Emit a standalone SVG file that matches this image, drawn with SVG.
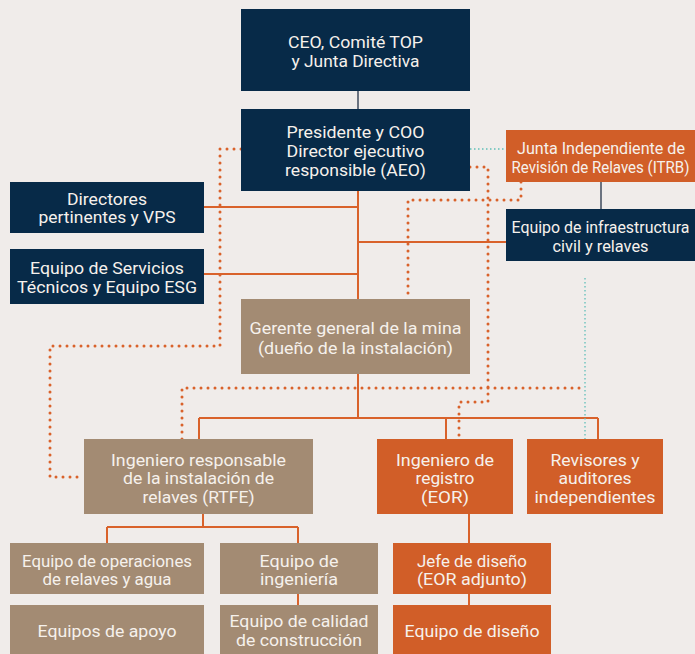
<svg xmlns="http://www.w3.org/2000/svg" width="695" height="654" viewBox="0 0 695 654">
<style>
.navy{fill:#072a48}
.tan{fill:#a38b73}
.org{fill:#d15e28}
text{font-family:Roboto,"Liberation Sans",sans-serif;font-size:17px;fill:#f6f1ec;text-anchor:middle}
.solid{fill:none;stroke:#d9622b;stroke-width:2}
.gray{fill:none;stroke:#6b7380;stroke-width:2}
.dot{fill:none;stroke:#d9622b;stroke-width:3;stroke-linecap:round;stroke-dasharray:0 7}
.teal{fill:none;stroke:#5fbfb8;stroke-width:1.3;stroke-dasharray:1.5 2.5}
</style>
<rect width="695" height="654" fill="#f0ecea"/>
<g id="connectors">
<path class="gray" d="M358,91V109M601,182V209"/>
<path class="solid" d="M358,191V299M204,207H358M204,274H358M358,242H506M358,374V418M199,418H598M199,418V439M446,418V439M598,418V439M203,513V527M107,527H298M107,527V543M298,527V543M298,594V605M469,513V543M469,594V605"/>
<path class="dot" d="M241,149H220V346H50V477H84"/>
<path class="dot" d="M470,167H488V402H459V439"/>
<path class="dot" d="M521,182V200H408V299"/>
<path class="dot" d="M182,439V388H585"/>
<path class="teal" d="M470,149H506M585,278V439"/>
</g>
<g id="ceo"><rect class="navy" x="241" y="9" width="229" height="82"/>
<text x="355.5" y="48" textLength="135" lengthAdjust="spacingAndGlyphs">CEO, Comité TOP</text>
<text x="355.5" y="67" textLength="128" lengthAdjust="spacingAndGlyphs">y Junta Directiva</text></g>
<g id="presidente"><rect class="navy" x="241" y="109" width="229" height="82"/>
<text x="355.5" y="138" textLength="138" lengthAdjust="spacingAndGlyphs">Presidente y COO</text>
<text x="355.5" y="157" textLength="138" lengthAdjust="spacingAndGlyphs">Director ejecutivo</text>
<text x="355.5" y="176" textLength="141" lengthAdjust="spacingAndGlyphs">responsible (AEO)</text></g>
<g id="itrb"><rect class="org" x="506" y="130" width="189" height="52"/>
<text x="601" y="154" textLength="168" lengthAdjust="spacingAndGlyphs">Junta Independiente de</text>
<text x="600.5" y="173" textLength="178" lengthAdjust="spacingAndGlyphs">Revisión de Relaves (ITRB)</text></g>
<g id="infra"><rect class="navy" x="506" y="209" width="189" height="52"/>
<text x="600.5" y="233" textLength="178" lengthAdjust="spacingAndGlyphs">Equipo de infraestructura</text>
<text x="600.5" y="252" textLength="96" lengthAdjust="spacingAndGlyphs">civil y relaves</text></g>
<g id="directores"><rect class="navy" x="10" y="182" width="194" height="51"/>
<text x="107" y="205" textLength="80" lengthAdjust="spacingAndGlyphs">Directores</text>
<text x="107" y="223" textLength="137" lengthAdjust="spacingAndGlyphs">pertinentes y VPS</text></g>
<g id="servicios"><rect class="navy" x="10" y="249" width="194" height="55"/>
<text x="107" y="274" textLength="154" lengthAdjust="spacingAndGlyphs">Equipo de Servicios</text>
<text x="107" y="293" textLength="180" lengthAdjust="spacingAndGlyphs">Técnicos y Equipo ESG</text></g>
<g id="gerente"><rect class="tan" x="241" y="299" width="229" height="75"/>
<text x="355.5" y="334" textLength="212" lengthAdjust="spacingAndGlyphs">Gerente general de la mina</text>
<text x="355.5" y="354" textLength="195" lengthAdjust="spacingAndGlyphs">(dueño de la instalación)</text></g>
<g id="rtfe"><rect class="tan" x="84" y="439" width="229" height="75"/>
<text x="198.5" y="466" textLength="175" lengthAdjust="spacingAndGlyphs">Ingeniero responsable</text>
<text x="198.5" y="484" textLength="151" lengthAdjust="spacingAndGlyphs">de la instalación de</text>
<text x="198.5" y="503" textLength="112" lengthAdjust="spacingAndGlyphs">relaves (RTFE)</text></g>
<g id="eor"><rect class="org" x="377" y="439" width="136" height="75"/>
<text x="445" y="466" textLength="98" lengthAdjust="spacingAndGlyphs">Ingeniero de</text>
<text x="445" y="484" textLength="59" lengthAdjust="spacingAndGlyphs">registro</text>
<text x="445" y="503" textLength="48" lengthAdjust="spacingAndGlyphs">(EOR)</text></g>
<g id="revisores"><rect class="org" x="527" y="439" width="136" height="75"/>
<text x="595" y="466" textLength="89" lengthAdjust="spacingAndGlyphs">Revisores y</text>
<text x="595" y="484" textLength="73" lengthAdjust="spacingAndGlyphs">auditores</text>
<text x="595" y="503" textLength="121" lengthAdjust="spacingAndGlyphs">independientes</text></g>
<g id="operaciones"><rect class="tan" x="10" y="543" width="194" height="51"/>
<text x="107" y="567" textLength="170" lengthAdjust="spacingAndGlyphs">Equipo de operaciones</text>
<text x="107" y="585" textLength="129" lengthAdjust="spacingAndGlyphs">de relaves y agua</text></g>
<g id="ingenieria"><rect class="tan" x="220" y="543" width="158" height="51"/>
<text x="299" y="567" textLength="79" lengthAdjust="spacingAndGlyphs">Equipo de</text>
<text x="299" y="585" textLength="78" lengthAdjust="spacingAndGlyphs">ingeniería</text></g>
<g id="jefe"><rect class="org" x="393" y="543" width="158" height="51"/>
<text x="472" y="567" textLength="110" lengthAdjust="spacingAndGlyphs">Jefe de diseño</text>
<text x="472" y="585" textLength="110" lengthAdjust="spacingAndGlyphs">(EOR adjunto)</text></g>
<g id="apoyo"><rect class="tan" x="10" y="605" width="194" height="49"/>
<text x="107" y="637" textLength="139" lengthAdjust="spacingAndGlyphs">Equipos de apoyo</text></g>
<g id="calidad"><rect class="tan" x="220" y="605" width="158" height="49"/>
<text x="299" y="627" textLength="139" lengthAdjust="spacingAndGlyphs">Equipo de calidad</text>
<text x="299" y="646" textLength="126" lengthAdjust="spacingAndGlyphs">de construcción</text></g>
<g id="diseno"><rect class="org" x="393" y="605" width="158" height="49"/>
<text x="472" y="637" textLength="135" lengthAdjust="spacingAndGlyphs">Equipo de diseño</text></g>
</svg>
